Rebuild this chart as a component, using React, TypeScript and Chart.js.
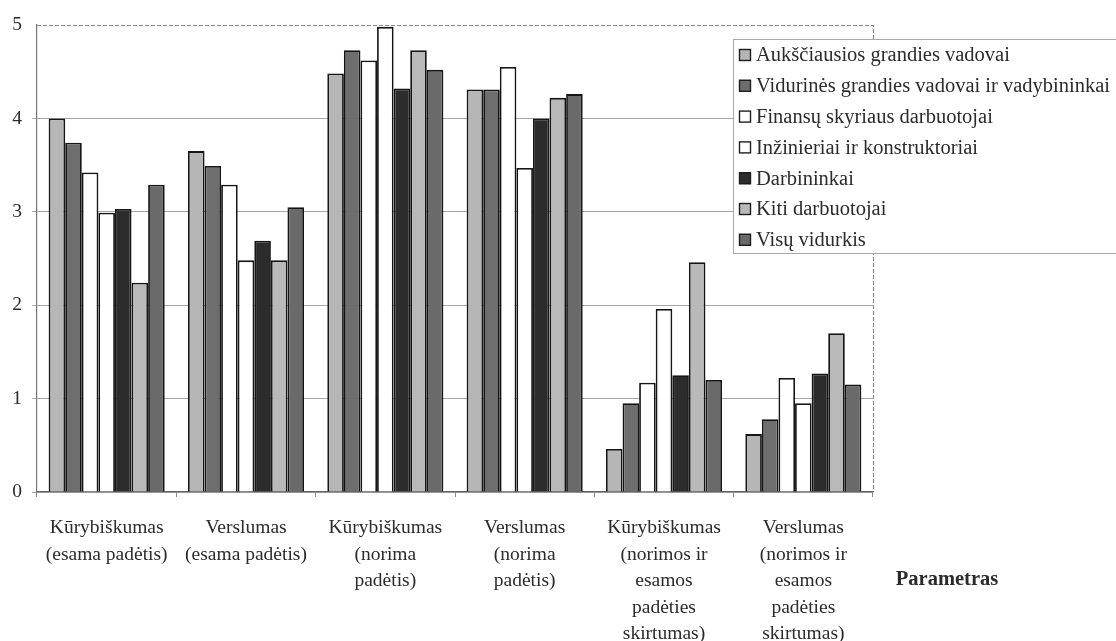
import React, { useEffect, useRef } from "react";
import { Chart, registerables } from "chart.js";

Chart.register(...registerables);

const categories: string[][] = [
  ["Kūrybiškumas", "(esama padėtis)"],
  ["Verslumas", "(esama padėtis)"],
  ["Kūrybiškumas", "(norima", "padėtis)"],
  ["Verslumas", "(norima", "padėtis)"],
  ["Kūrybiškumas", "(norimos ir", "esamos", "padėties", "skirtumas)"],
  ["Verslumas", "(norimos ir", "esamos", "padėties", "skirtumas)"],
];

const seriesNames = [
  "Aukščiausios grandies vadovai",
  "Vidurinės grandies vadovai ir vadybininkai",
  "Finansų skyriaus darbuotojai",
  "Inžinieriai ir konstruktoriai",
  "Darbininkai",
  "Kiti darbuotojai",
  "Visų vidurkis",
];

const aukstVadovai = [4.0, 3.65, 4.48, 4.31, 0.46, 0.62];
const vidVadovai = [3.74, 3.49, 4.73, 4.31, 0.95, 0.78];
const finansininkai = [3.42, 3.29, 4.62, 4.55, 1.17, 1.22];
const inzinieriai = [2.99, 2.48, 4.98, 3.47, 1.96, 0.95];
const darbininkai = [3.03, 2.69, 4.32, 4.0, 1.25, 1.27];
const kiti = [2.24, 2.48, 4.73, 4.22, 2.46, 1.7];
const visuVidurkis = [3.29, 3.05, 4.52, 4.26, 1.2, 1.15];

const seriesValues = [aukstVadovai, vidVadovai, finansininkai, inzinieriai, darbininkai, kiti, visuVidurkis];
const seriesColors = ["#b6b6b6", "#6e6e6e", "#ffffff", "#ffffff", "#2c2c2c", "#b9b9b9", "#6a6a6a"];

const yMin = 0;
const yMax = 5;
const yStep = 1;
const axisTitle = "Parametras";

const FONT = "'Liberation Serif', 'Times New Roman', serif";
const TEXT = "#2b2b2b";

const framePlugin = {
  id: "frame",
  beforeDraw(chart: any) {
    const { ctx, chartArea: a } = chart;
    ctx.save();
    ctx.fillStyle = "#ffffff";
    ctx.fillRect(0, 0, chart.width, chart.height);
    ctx.strokeStyle = "#8a8a8a";
    ctx.lineWidth = 1.2;
    ctx.setLineDash([4, 2]);
    ctx.beginPath();
    ctx.moveTo(a.left, a.top + 0.5);
    ctx.lineTo(a.right + 0.5, a.top + 0.5);
    ctx.lineTo(a.right + 0.5, a.bottom);
    ctx.stroke();
    ctx.restore();
  },
};

const legendPlugin = {
  id: "boxLegend",
  afterDraw(chart: any) {
    const { ctx } = chart;
    const x0 = 733;
    const y0 = 39;
    const rowH = 30.8;
    ctx.save();
    ctx.fillStyle = "#ffffff";
    ctx.fillRect(x0, y0, 420, 214);
    ctx.strokeStyle = "#a8a8a8";
    ctx.lineWidth = 1;
    ctx.strokeRect(x0 + 0.5, y0 + 0.5, 420, 214);
    ctx.font = `20.5px ${FONT}`;
    ctx.textBaseline = "middle";
    ctx.textAlign = "left";
    chart.data.datasets.forEach((ds: any, i: number) => {
      const cy = y0 + 16 + i * rowH;
      ctx.fillStyle = ds.backgroundColor;
      ctx.fillRect(x0 + 6, cy - 6, 12, 12);
      ctx.strokeStyle = "#1e1e1e";
      ctx.lineWidth = 1.4;
      ctx.strokeRect(x0 + 6.5, cy - 5.5, 11, 11);
      ctx.fillStyle = TEXT;
      ctx.fillText(ds.label, x0 + 23, cy + 1);
    });
    ctx.restore();
  },
};

const titlePlugin = {
  id: "axisTitleRight",
  afterDraw(chart: any) {
    const { ctx } = chart;
    ctx.save();
    ctx.font = `bold 20.5px ${FONT}`;
    ctx.fillStyle = TEXT;
    ctx.textAlign = "center";
    ctx.textBaseline = "middle";
    ctx.fillText(axisTitle, 947, 580);
    ctx.restore();
  },
};

export default function App() {
  const ref = useRef<HTMLCanvasElement | null>(null);

  useEffect(() => {
    document.body.style.margin = "0";
    const canvas = ref.current!;
    const chart = new Chart(canvas, {
      type: "bar",
      data: {
        labels: categories,
        datasets: seriesNames.map((name, i) => ({
          label: name,
          data: seriesValues[i],
          backgroundColor: seriesColors[i],
          borderColor: "#151515",
          borderWidth: 1.8,
          borderSkipped: "bottom" as const,
          barPercentage: 1,
          categoryPercentage: 0.833,
        })),
      },
      options: {
        responsive: false,
        animation: false,
        devicePixelRatio: 1,
        layout: { padding: { left: 0, top: 25, right: 243, bottom: 0 } },
        plugins: {
          legend: { display: false },
          tooltip: { enabled: false },
          title: { display: false },
        },
        scales: {
          x: {
            offset: true,
            grid: {
              display: true,
              drawOnChartArea: false,
              drawTicks: true,
              tickLength: 5,
              color: "#8a8a8a",
              offset: true,
            },
            border: { display: true, color: "#666666", width: 1.2 },
            ticks: {
              autoSkip: false,
              maxRotation: 0,
              minRotation: 0,
              padding: 18,
              color: TEXT,
              font: { family: FONT, size: 19.5, lineHeight: 26.5 / 19.5 },
            },
            afterFit(scale: any) {
              scale.height = 641 - 492;
            },
          },
          y: {
            min: yMin,
            max: yMax,
            ticks: {
              stepSize: yStep,
              padding: 10,
              color: TEXT,
              font: { family: FONT, size: 19.5 },
            },
            grid: {
              color: (c: any) => (c.tick && c.tick.value === yMax ? "rgba(0,0,0,0)" : "#a6a6a6"),
              lineWidth: 1,
              tickLength: 5,
              drawTicks: true,
            },
            border: { display: true, color: "#777777", width: 1.2 },
            afterFit(scale: any) {
              scale.width = 37;
            },
          },
        },
      },
      plugins: [framePlugin, legendPlugin, titlePlugin],
    });
    return () => chart.destroy();
  }, []);

  return (
    <div style={{ width: 1116, height: 641, background: "#ffffff" }}>
      <canvas ref={ref} width={1116} height={641} style={{ display: "block", width: 1116, height: 641 }} />
    </div>
  );
}
